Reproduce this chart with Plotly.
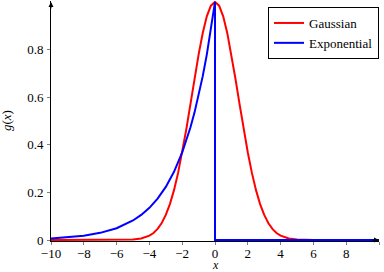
import plotly.graph_objects as go

# Gaussian curve
gauss_x = [-10, -6, -5, -4.5, -4, -3.75, -3.5, -3.25, -3, -2.75, -2.5, -2.25, -2, -1.75, -1.5, -1.25, -1,
           -0.75, -0.5, -0.25, 0, 0.25, 0.5, 0.75, 1, 1.25, 1.5, 1.75, 2, 2.25, 2.5, 2.75, 3, 3.25, 3.5,
           3.75, 4, 4.5, 5, 6, 10]
gauss_y = [0.0, 0.0001, 0.0019, 0.0063, 0.0183, 0.0297, 0.0468, 0.0713, 0.1054, 0.1510, 0.2096, 0.2821,
           0.3679, 0.4650, 0.5698, 0.6766, 0.7788, 0.8688, 0.9394, 0.9845, 1.0, 0.9845, 0.9394, 0.8688,
           0.7788, 0.6766, 0.5698, 0.4650, 0.3679, 0.2821, 0.2096, 0.1510, 0.1054, 0.0713, 0.0468, 0.0297,
           0.0183, 0.0063, 0.0019, 0.0001, 0.0]

# Exponential curve
expo_x = [-10, -9, -8, -7, -6, -5, -4.5, -4, -3.5, -3, -2.5, -2, -1.75, -1.5, -1.25, -1, -0.75, -0.5,
          -0.25, 0, 0, 10]
expo_y = [0.0067, 0.0111, 0.0183, 0.0302, 0.0498, 0.0821, 0.1054, 0.1353, 0.1738, 0.2231, 0.2865, 0.3679,
          0.4169, 0.4724, 0.5353, 0.6065, 0.6873, 0.7788, 0.8825, 1.0, 0.0, 0.0]

x_ticks = [-10, -8, -6, -4, -2, 0, 2, 4, 6, 8, 10]
y_ticks = [0, 0.2, 0.4, 0.6, 0.8]

FONT = "Liberation Serif, DejaVu Serif, serif"

fig = go.Figure()
fig.add_trace(go.Scatter(x=gauss_x, y=gauss_y, mode="lines", name="Gaussian",
                         line=dict(color="#ff0000", width=2)))
fig.add_trace(go.Scatter(x=expo_x, y=expo_y, mode="lines", name="Exponential",
                         line=dict(color="#0000ff", width=2)))

fig.update_layout(
    width=384, height=272,
    margin=dict(l=51, r=5, t=1, b=31),
    paper_bgcolor="white", plot_bgcolor="white",
    font=dict(family=FONT, size=13, color="black"),
    showlegend=True,
    legend=dict(x=1, y=0.975, xanchor="right", yanchor="top",
                bordercolor="black", borderwidth=1, bgcolor="white",
                font=dict(family=FONT, size=13), itemwidth=30,
                tracegroupgap=0),
    xaxis=dict(range=[-10, 10], tickvals=x_ticks, showgrid=False, zeroline=False,
               showline=True, linecolor="black", linewidth=1, automargin=False,
               ticks="outside", ticklen=3, tickcolor="gray", ticklabelstandoff=-3),
    yaxis=dict(range=[-0.004, 1.004], tickvals=y_ticks, showgrid=False, zeroline=False,
               showline=True, linecolor="black", linewidth=1, automargin=False,
               ticks="outside", ticklen=3, tickcolor="gray", ticklabelstandoff=1),
)

# axis titles
fig.add_annotation(x=0.5, y=0, xref="paper", yref="paper", yshift=-24, yanchor="middle",
                   text="<i>x</i>", showarrow=False, font=dict(family=FONT, size=12))
fig.add_annotation(x=0, y=0.5, xref="paper", yref="paper", xshift=-45, xanchor="center",
                   text="<i>g</i>(<i>x</i>)", textangle=-90, showarrow=False,
                   font=dict(family=FONT, size=13))

# axis arrows
fig.add_annotation(x=10, y=0, xref="x", yref="y", ax=-8, ay=0, text="", showarrow=True,
                   arrowhead=2, arrowsize=1, arrowwidth=1, arrowcolor="black")
fig.add_annotation(x=-10, y=1.0, xref="x", yref="y", ax=0, ay=8, text="", showarrow=True,
                   arrowhead=2, arrowsize=1, arrowwidth=1, arrowcolor="black")

fig.write_html("out.html", config={"displayModeBar": False},
               post_script="document.body.style.margin='0px';")
